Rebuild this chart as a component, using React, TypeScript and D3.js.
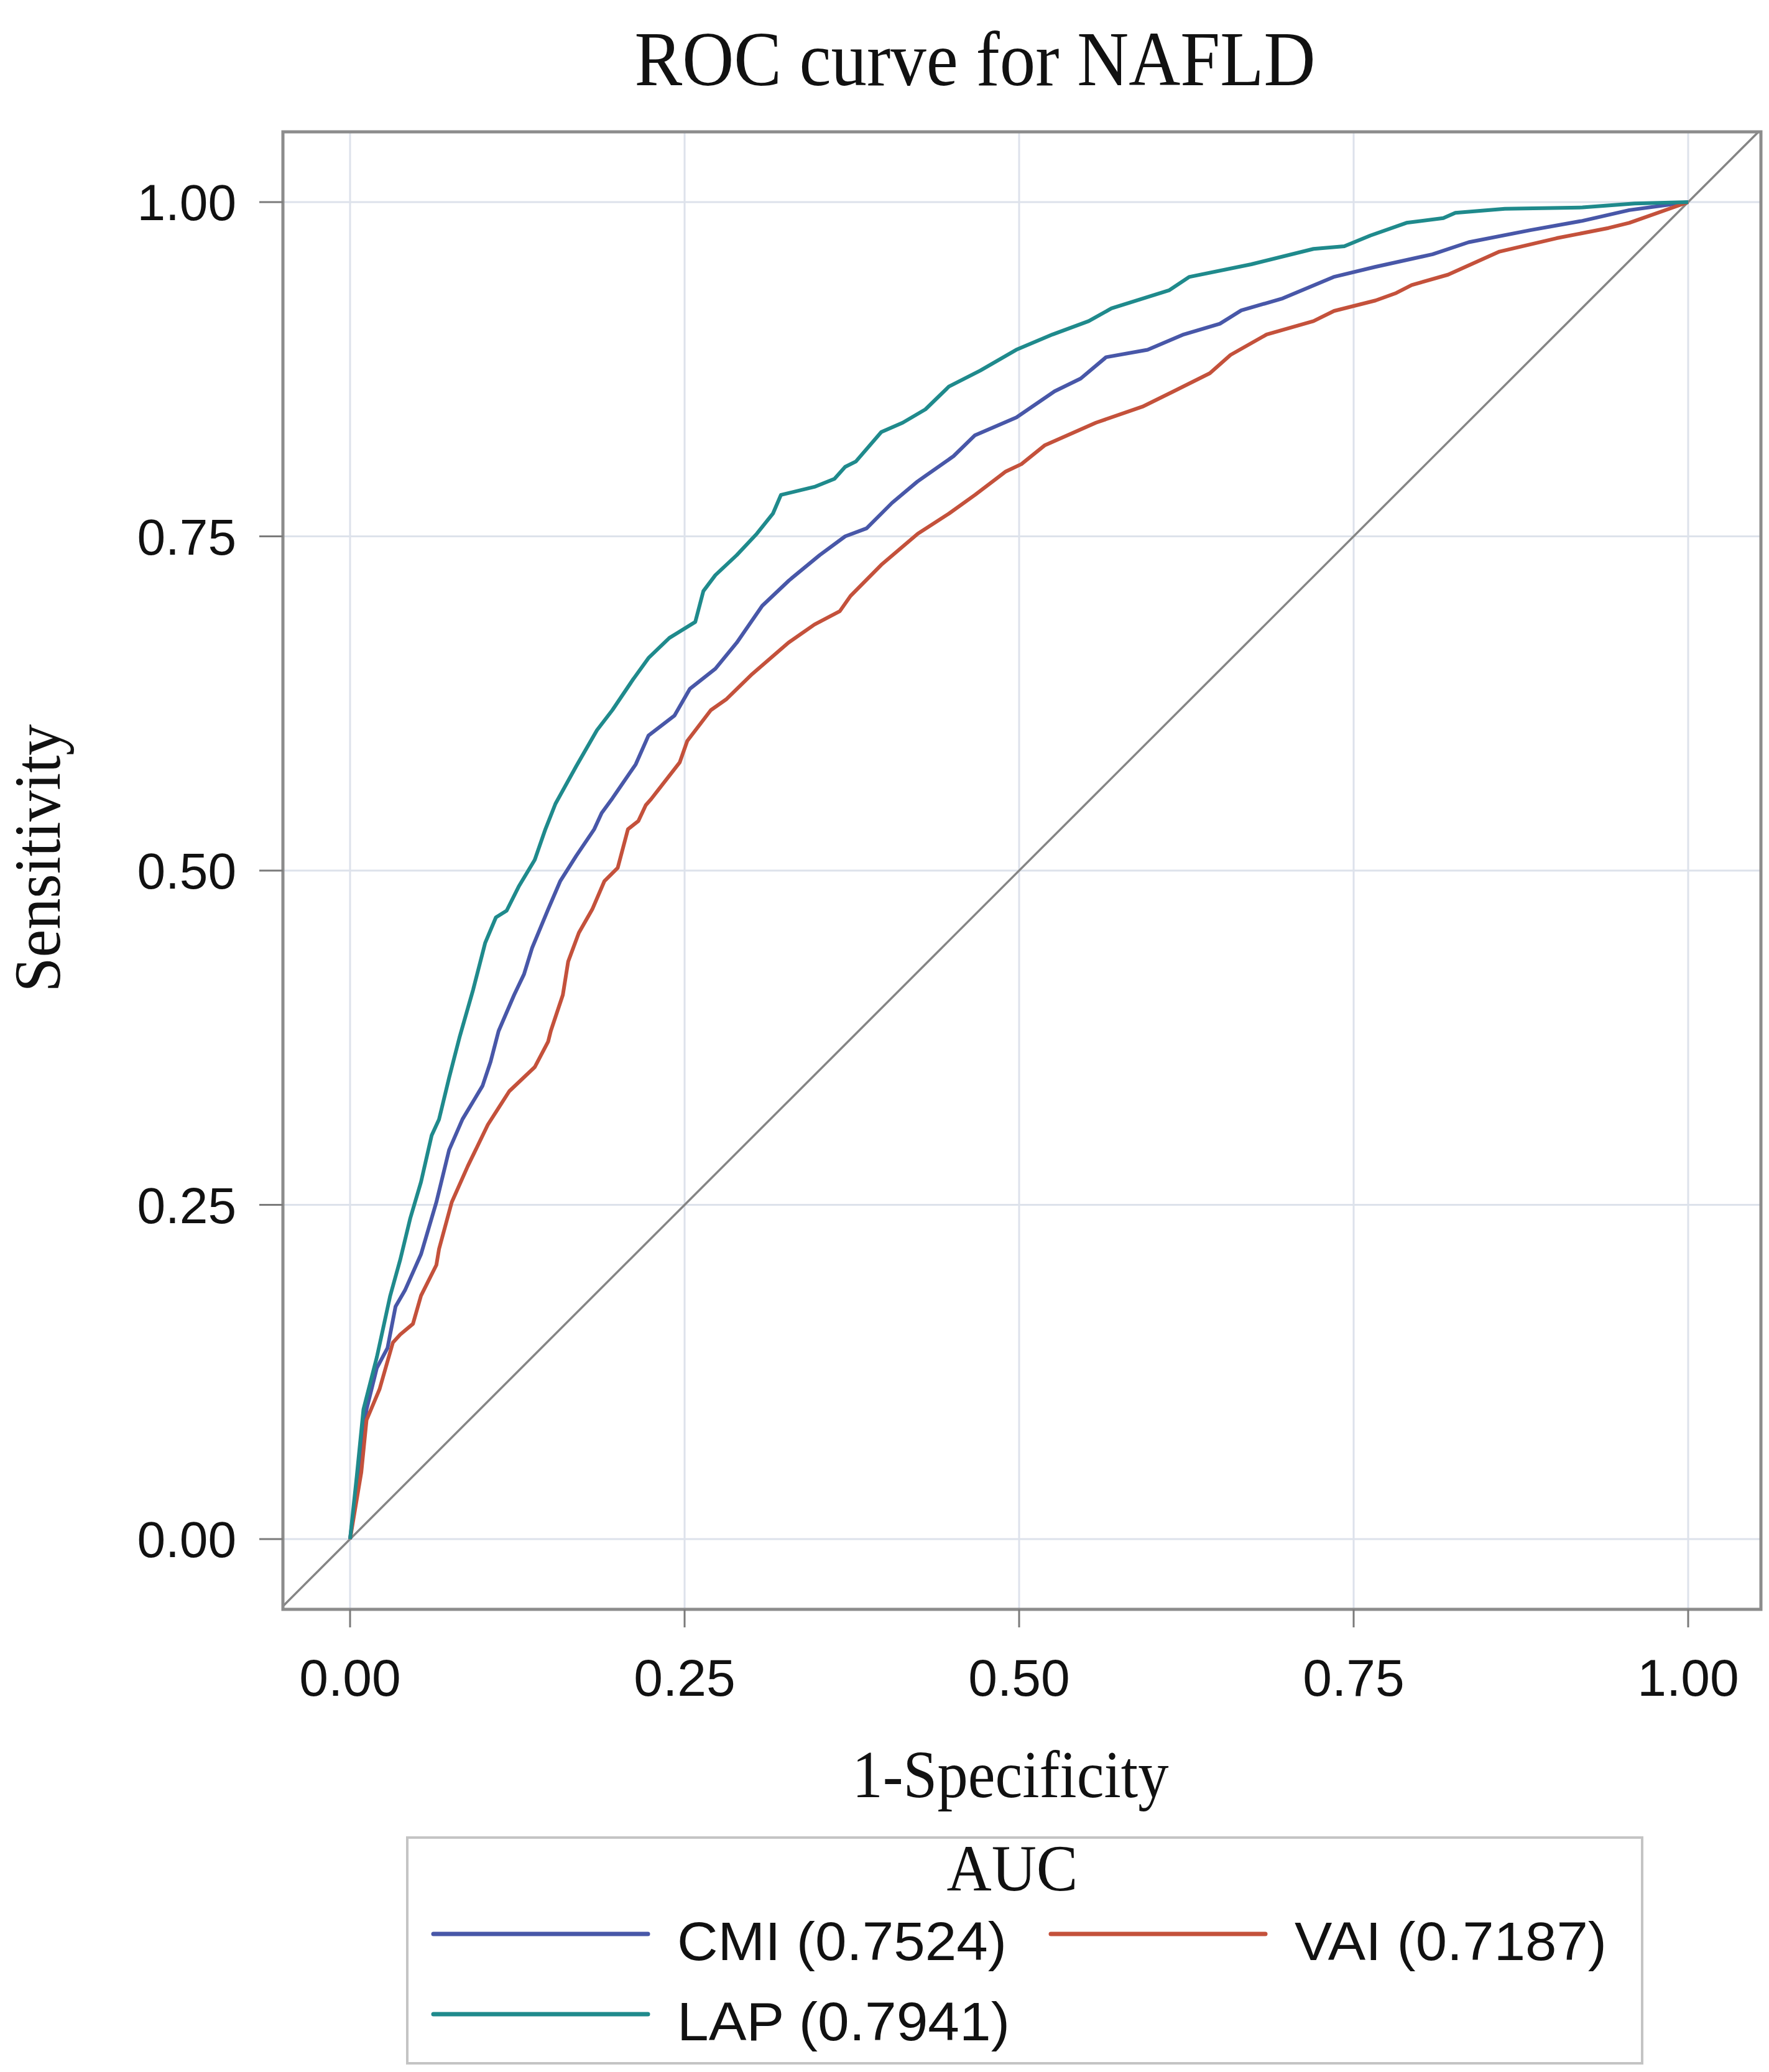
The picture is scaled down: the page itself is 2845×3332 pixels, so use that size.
import * as d3 from "d3";

type Pt = [number, number];

// ROC points: [1-specificity, sensitivity]
const cmiPoints: Pt[] = [
  [0, 0], [0.0065, 0.05], [0.0123, 0.097], [0.02, 0.128], [0.028, 0.143], [0.034, 0.174],
  [0.041, 0.186], [0.053, 0.213], [0.0645, 0.252], [0.074, 0.291], [0.084, 0.314], [0.099, 0.339],
  [0.105, 0.357], [0.111, 0.38], [0.1226, 0.407], [0.13, 0.4225], [0.136, 0.442], [0.148, 0.471],
  [0.157, 0.492], [0.169, 0.511], [0.1825, 0.531], [0.188, 0.543], [0.196, 0.554], [0.2135, 0.5795],
  [0.223, 0.601], [0.2425, 0.616], [0.254, 0.636], [0.273, 0.651], [0.289, 0.6705], [0.308, 0.698],
  [0.328, 0.717], [0.351, 0.736], [0.37, 0.75], [0.386, 0.756], [0.405, 0.775], [0.424, 0.791],
  [0.451, 0.81], [0.467, 0.8256], [0.498, 0.839], [0.5265, 0.8585], [0.546, 0.868], [0.565, 0.884],
  [0.596, 0.8895], [0.623, 0.901], [0.65, 0.909], [0.666, 0.919], [0.697, 0.928], [0.735, 0.944],
  [0.766, 0.9515], [0.809, 0.961], [0.836, 0.97], [0.882, 0.979], [0.921, 0.986], [0.956, 0.994],
  [1, 1],
];

const vaiPoints: Pt[] = [
  [0, 0], [0.0084, 0.05], [0.0123, 0.089], [0.022, 0.112], [0.032, 0.147], [0.0375, 0.153],
  [0.047, 0.161], [0.053, 0.182], [0.0645, 0.205], [0.0665, 0.217], [0.076, 0.252], [0.088, 0.279],
  [0.103, 0.31], [0.119, 0.335], [0.138, 0.353], [0.148, 0.372], [0.15, 0.38], [0.159, 0.407],
  [0.163, 0.432], [0.171, 0.4535], [0.181, 0.471], [0.19, 0.492], [0.2, 0.502], [0.2077, 0.531],
  [0.2154, 0.537], [0.221, 0.549], [0.225, 0.5535], [0.2464, 0.581], [0.252, 0.597], [0.2696, 0.62],
  [0.281, 0.628], [0.3005, 0.647], [0.3276, 0.6705], [0.347, 0.684], [0.366, 0.694], [0.374, 0.7054],
  [0.397, 0.7287], [0.4243, 0.752], [0.4475, 0.767], [0.467, 0.781], [0.49, 0.7985], [0.5017, 0.804],
  [0.519, 0.818], [0.5574, 0.835], [0.5922, 0.847], [0.6155, 0.8585], [0.6425, 0.872], [0.658, 0.8857],
  [0.685, 0.901], [0.72, 0.911], [0.7354, 0.9186], [0.7663, 0.9264], [0.7818, 0.932], [0.7934, 0.938],
  [0.8205, 0.9457], [0.859, 0.963], [0.9017, 0.973], [0.9404, 0.9806], [0.956, 0.9845], [1, 1],
];

const lapPoints: Pt[] = [
  [0, 0], [0.005, 0.047], [0.01, 0.097], [0.02, 0.136], [0.03, 0.182], [0.0375, 0.209],
  [0.045, 0.24], [0.053, 0.267], [0.061, 0.302], [0.0665, 0.314], [0.074, 0.345], [0.082, 0.376],
  [0.092, 0.411], [0.101, 0.446], [0.109, 0.465], [0.117, 0.47], [0.126, 0.488], [0.138, 0.508],
  [0.146, 0.531], [0.1535, 0.55], [0.169, 0.578], [0.1845, 0.605], [0.196, 0.62], [0.2115, 0.643],
  [0.223, 0.659], [0.2386, 0.674], [0.258, 0.686], [0.264, 0.709], [0.273, 0.721], [0.289, 0.736],
  [0.304, 0.752], [0.316, 0.767], [0.322, 0.781], [0.347, 0.787], [0.362, 0.793], [0.37, 0.802],
  [0.378, 0.806], [0.397, 0.828], [0.413, 0.835], [0.43, 0.845], [0.4475, 0.862], [0.471, 0.874],
  [0.4978, 0.8895], [0.525, 0.901], [0.552, 0.911], [0.569, 0.9205], [0.612, 0.934], [0.627, 0.944],
  [0.6735, 0.9535], [0.72, 0.965], [0.743, 0.967], [0.7625, 0.975], [0.7895, 0.9845], [0.817, 0.988],
  [0.826, 0.992], [0.863, 0.995], [0.921, 0.996], [0.96, 0.999], [1, 1],
];

const ticks = [0, 0.25, 0.5, 0.75, 1];

const series = [
  { name: "CMI", auc: "0.7524", color: "#4857a8", points: cmiPoints },
  { name: "VAI", auc: "0.7187", color: "#c4513b", points: vaiPoints },
  { name: "LAP", auc: "0.7941", color: "#1f8a8c", points: lapPoints },
];

const W = 2845;
const H = 3332;
const frame = { left: 455, right: 2832, top: 212, bottom: 2588 };
const serif = "'Liberation Serif', 'DejaVu Serif', serif";
const sans = "'Liberation Sans', Arial, sans-serif";

export default function App() {
  const x = d3.scaleLinear().domain([0, 1]).range([563, 2715]);
  const y = d3.scaleLinear().domain([0, 1]).range([2475, 325]);
  const fmt = d3.format(".2f");
  const line = d3.line<Pt>().x((d) => x(d[0])).y((d) => y(d[1]));

  // reference diagonal spans the whole frame
  const dLo = Math.max(x.invert(frame.left), y.invert(frame.bottom));
  const dHi = Math.min(x.invert(frame.right), y.invert(frame.top));

  const legendRows = [
    { s: series[0], lx: 697, ly: 3110 },
    { s: series[1], lx: 1690, ly: 3110 },
    { s: series[2], lx: 697, ly: 3239 },
  ];
  const textLens: Record<string, number> = { CMI: 530, VAI: 502, LAP: 535 };

  return (
    <svg width={W} height={H} viewBox={`0 0 ${W} ${H}`} style={{ position: "absolute", left: 0, top: 0, background: "#fff" }}>
      <rect width={W} height={H} fill="#fff" />
      <text x={1568} y={137} textAnchor="middle" fontFamily={serif} fontSize={125} textLength={1095} lengthAdjust="spacingAndGlyphs" fill="#111">
        ROC curve for NAFLD
      </text>

      {/* grid */}
      {ticks.map((t) => (
        <g key={`g${t}`}>
          <line x1={x(t)} x2={x(t)} y1={frame.top} y2={frame.bottom} stroke="#dde2eb" strokeWidth={3} />
          <line x1={frame.left} x2={frame.right} y1={y(t)} y2={y(t)} stroke="#dde2eb" strokeWidth={3} />
        </g>
      ))}

      <line x1={x(dLo)} y1={y(dLo)} x2={x(dHi)} y2={y(dHi)} stroke="#858585" strokeWidth={3.5} />

      {series.map((s) => (
        <path key={s.name} d={line(s.points) ?? ""} fill="none" stroke={s.color} strokeWidth={6} strokeLinejoin="round" />
      ))}

      <rect x={frame.left} y={frame.top} width={frame.right - frame.left} height={frame.bottom - frame.top} fill="none" stroke="#8c8c8c" strokeWidth={5} />

      {/* axes */}
      {ticks.map((t) => (
        <g key={`x${t}`}>
          <line x1={x(t)} x2={x(t)} y1={frame.bottom} y2={frame.bottom + 29} stroke="#7a7a7a" strokeWidth={3} />
          <text x={x(t)} y={2727} textAnchor="middle" fontFamily={sans} fontSize={84} fill="#111">{fmt(t)}</text>
        </g>
      ))}
      {ticks.map((t) => (
        <g key={`y${t}`}>
          <line x1={frame.left - 38} x2={frame.left} y1={y(t)} y2={y(t)} stroke="#7a7a7a" strokeWidth={3} />
          <text x={380} y={y(t) + 29} textAnchor="end" fontFamily={sans} fontSize={82} fill="#111">{fmt(t)}</text>
        </g>
      ))}

      <text x={1625} y={2890} textAnchor="middle" fontFamily={serif} fontSize={108} textLength={509} lengthAdjust="spacingAndGlyphs" fill="#111">
        1-Specificity
      </text>
      <text transform="translate(96,1380) rotate(-90)" textAnchor="middle" fontFamily={serif} fontSize={106} textLength={431} lengthAdjust="spacingAndGlyphs" fill="#111">
        Sensitivity
      </text>

      {/* legend */}
      <rect x={655} y={2955} width={2641 - 655} height={3318 - 2955} fill="none" stroke="#c4c4c4" strokeWidth={4} />
      <text x={1628} y={3040} textAnchor="middle" fontFamily={serif} fontSize={105} textLength={211} lengthAdjust="spacingAndGlyphs" fill="#111">
        AUC
      </text>
      {legendRows.map(({ s, lx, ly }) => (
        <g key={`l${s.name}`}>
          <line x1={lx} x2={lx + 345} y1={ly} y2={ly} stroke={s.color} strokeWidth={7} strokeLinecap="round" />
          <text x={lx + 392} y={ly + 42} fontFamily={sans} fontSize={88} textLength={textLens[s.name]} lengthAdjust="spacingAndGlyphs" fill="#111">
            {`${s.name}  (${s.auc})`}
          </text>
        </g>
      ))}
    </svg>
  );
}
